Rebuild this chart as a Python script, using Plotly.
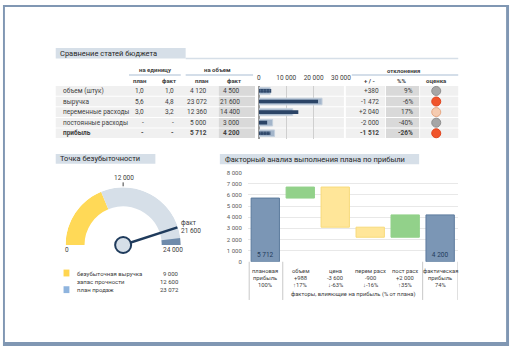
import plotly.graph_objects as go

W, H = 520, 350


def px(x):
    return x / W


def py(y):
    return 1 - y / H


FONT = "Roboto, 'Open Sans', sans-serif"
TXT = "#404040"
NAVY = "#1f3b5c"
BAND = "#d6dfe8"

# ---------------- budget comparison table ----------------
row_labels = ["объем (штук)", "выручка", "переменные расходы", "постоянные расходы", "прибыль"]
plan_unit = ["1,0", "5,6", "3,0", "-", "-"]
fact_unit = ["1,0", "4,8", "3,2", "-", "-"]
plan_volume = [4120, 23072, 12360, 5000, 5712]
fact_volume = [4500, 21600, 14400, 3000, 4200]
deviation = ["+380", "-1 472", "+2 040", "-2 000", "-1 512"]
deviation_pct = ["9%", "-6%", "17%", "-40%", "-26%"]
rating_colors = ["#a6a6a6", "#f0542b", "#f5cbb0", "#a6a6a6", "#f0542b"]
rating_lines = ["#8f8f8f", "#e0441d", "#e6a783", "#8f8f8f", "#e0441d"]
bullet_ticks = [0, 10000, 20000, 30000]
bullet_ticktext = ["0", "10 000", "20 000", "30 000"]

# ---------------- break-even gauge ----------------
gauge_max = 24000
gauge_ticks = ["0", "12 000", "24 000"]
breakeven = 9000
safety_margin = 12600
sales_plan = 23072
sales_fact = 21600

# ---------------- profit factor waterfall ----------------
wf_line1 = ["плановая", "объем", "цена", "перем расх", "пост расх", "фактическая"]
wf_line2 = ["прибыль", "+988", "-3 600", "-900", "+2 000", "прибыль"]
wf_line3 = ["100%", "↑17%", "↓-63%", "↓-16%", "↑35%", "74%"]
wf_measure = ["absolute", "relative", "relative", "relative", "relative", "total"]
wf_values = [5712, 988, -3600, -900, 2000, 0]
wf_text = ["5 712", "", "", "", "", "4 200"]
wf_yticks = [0, 1000, 2000, 3000, 4000, 5000, 6000, 7000, 8000]


def fmt(v):
    return f"{v:,}".replace(",", " ")


rows = list(range(len(row_labels)))
fig = go.Figure()

# bullet bars
fig.add_trace(go.Bar(
    x=plan_volume, y=rows, orientation="h", width=0.62,
    marker=dict(color="#a3b5ca", line=dict(color="#c3cfdc", width=1)),
    xaxis="x", yaxis="y", hoverinfo="skip"))
fig.add_trace(go.Bar(
    x=fact_volume, y=rows, orientation="h", width=0.34,
    marker=dict(color="#2b4466", line=dict(width=0),
                pattern=dict(shape=[".", "", "", "", "."], fgcolor="#8ea3be", size=3, solidity=0.3)),
    xaxis="x", yaxis="y", hoverinfo="skip"))

# rating circles
fig.add_trace(go.Scatter(
    x=[0.5] * len(rows), y=rows, mode="markers",
    marker=dict(size=9, color=rating_colors, line=dict(color=rating_lines, width=1)),
    xaxis="x3", yaxis="y", hoverinfo="skip", cliponaxis=False))

# waterfall
fig.add_trace(go.Waterfall(
    x=list(range(len(wf_values))), y=wf_values, measure=wf_measure,
    width=0.81, text=wf_text, textposition="inside", insidetextanchor="start",
    textfont=dict(size=6.5, color=NAVY, family=FONT),
    connector=dict(visible=False),
    totals=dict(marker=dict(color="#7b96b5", line=dict(color="#5b7a9d", width=1))),
    increasing=dict(marker=dict(color="#92d18a", line=dict(color="#92d18a", width=1))),
    decreasing=dict(marker=dict(color="#ffe699", line=dict(color="#f7da7a", width=1))),
    xaxis="x2", yaxis="y2", hoverinfo="skip"))

# gauge (polar)
def deg(v):
    return v / gauge_max * 180.0

hole = 0.67
segments = [(0, breakeven, "#ffd957"), (breakeven, gauge_max, BAND), (sales_plan, gauge_max, "#6f8bab")]
for a, b, c in segments:
    fig.add_trace(go.Barpolar(
        r=[1 - hole], base=[hole], theta=[deg((a + b) / 2)], width=[deg(b - a)],
        marker=dict(color=c, line=dict(width=0)), hoverinfo="skip"))
fig.add_trace(go.Scatterpolar(
    r=[0, 0.99], theta=[deg(sales_fact)] * 2, mode="lines",
    line=dict(color=NAVY, width=2.5), hoverinfo="skip"))
fig.add_trace(go.Scatterpolar(
    r=[0], theta=[0], mode="markers", cliponaxis=False,
    marker=dict(size=16, color=BAND, line=dict(color=NAVY, width=2)), hoverinfo="skip"))

shapes = []
ann = []


def rect(x0, y0, x1, y1, color, layer="below"):
    shapes.append(dict(type="rect", xref="paper", yref="paper", x0=px(x0), x1=px(x1),
                       y0=py(y1), y1=py(y0), fillcolor=color, line=dict(width=0), layer=layer))


def hline(x0, x1, y, color, width=1):
    shapes.append(dict(type="line", xref="paper", yref="paper", x0=px(x0), x1=px(x1),
                       y0=py(y), y1=py(y), line=dict(color=color, width=width), layer="below"))


def text(x, y, s, anchor="left", size=6.5, color=TXT, bold=False, yanchor="middle"):
    if bold:
        s = f"<b>{s}</b>"
    ann.append(dict(x=px(x), y=py(y), xref="paper", yref="paper", text=s, showarrow=False,
                    xanchor=anchor, yanchor=yanchor, font=dict(size=size, color=color, family=FONT)))


# frame
rect(1, 1, 519, 3, "#8097b3", "above")
rect(1, 1, 3, 349, "#8097b3", "above")
rect(516, 1, 519, 349, "#8097b3", "above")
rect(1, 345, 519, 349, "#8097b3", "above")

# section titles
rect(55, 45, 188, 55.5, BAND)
hline(188, 467, 55.5, BAND, 1.5)
text(57, 50.5, "Сравнение статей бюджета", size=7.5, color="#262626")
rect(55, 153, 157, 163, BAND)
text(57, 158, "Точка безубыточности", size=7.5, color="#262626")
rect(223, 153, 427, 163.5, BAND)
text(226, 158.5, "Факторный анализ выполнения плана по прибыли", size=7.5, color="#262626")

# table header
text(157, 67, "на единицу", "center", 6, bold=True)
hline(130, 183, 72.5, "#c6d3e2", 1.5)
text(221, 67, "на объем", "center", 6, bold=True)
hline(188, 257, 72.5, "#c6d3e2", 1.5)
text(411, 67.5, "отклонения", "center", 6, bold=True)
hline(358, 467, 72.5, "#c6d3e2", 1.5)
for xc, s in [(141, "план"), (171, "факт"), (205, "план"), (237, "факт"),
              (376, "+ / -"), (409, "%%"), (445, "оценка")]:
    text(xc, 78, s, "center", 6, bold=True)

# table rows
ROW0, PITCH = 88.7, 10.8
for i in rows:
    yc = ROW0 + PITCH * i
    y0, y1 = yc - 4.9, yc + 4.9
    for a, b in [(55, 259), (262, 350), (352, 392), (428, 467)]:
        rect(a, y0, b, y1, "#f0f0f0")
    rect(222, y0, 259, y1, "#d9d9d9")
    rect(393, y0, 427, y1, "#d9d9d9")
    bold = i == len(rows) - 1
    text(60, yc, row_labels[i], "left", bold=bold)
    text(147, yc, plan_unit[i], "right", bold=bold)
    text(178, yc, fact_unit[i], "right", bold=bold)
    text(212, yc, fmt(plan_volume[i]), "right", bold=bold)
    text(246, yc, fmt(fact_volume[i]), "right", bold=bold)
    text(388, yc, deviation[i], "right", bold=bold)
    text(423, yc, deviation_pct[i], "right", bold=bold)

# gauge labels
text(125, 178, gauge_ticks[1], "center", 6.5)
shapes.append(dict(type="line", xref="paper", yref="paper", x0=px(124), x1=px(124),
                   y0=py(186), y1=py(182), line=dict(color=TXT, width=1)))
text(67, 251.5, gauge_ticks[0], "center", 6.5)
text(175, 251.5, gauge_ticks[2], "center", 6.5)
text(181, 223, "факт", "left", 6.5)
text(181, 232, fmt(sales_fact), "left", 6.5)

# gauge legend
rect(63, 271, 69, 278, "#ffd54f")
text(75, 274.5, "безубыточная выручка", "left", 6)
text(183, 274.5, fmt(breakeven), "right", 6)
text(75, 283, "запас прочности", "left", 6)
text(183, 283, fmt(safety_margin), "right", 6)
rect(63, 288, 69, 295, "#8fb4de")
text(75, 291.5, "план продаж", "left", 6)
text(183, 291.5, fmt(sales_plan), "right", 6)

# waterfall category table
for xv in [-0.46, 0.5, 4.5, 5.5]:
    shapes.append(dict(type="line", xref="x2", yref="paper", x0=xv, x1=xv,
                       y0=py(302), y1=py(263), line=dict(color="#c8c8c8", width=1)))
for j in range(len(wf_values)):
    for k, lines in enumerate([wf_line1, wf_line2, wf_line3]):
        ann.append(dict(x=j, y=py(272 + 7.5 * k), xref="x2", yref="paper", text=lines[j],
                        showarrow=False, xanchor="center", yanchor="middle",
                        font=dict(size=5.8, color=TXT, family=FONT)))
text(359, 296, "факторы, влияющие на прибыль (% от плана)", "center", 5.8)

fig.update_layout(
    width=W, height=H, margin=dict(l=0, r=0, t=0, b=0),
    paper_bgcolor="white", plot_bgcolor="rgba(0,0,0,0)",
    showlegend=False, barmode="overlay", separators=", ",
    font=dict(family=FONT, color=TXT, size=6.5),
    shapes=shapes, annotations=ann,
    xaxis=dict(domain=[px(263), px(347)], range=[0, 30000], side="top",
               tickvals=bullet_ticks, ticktext=bullet_ticktext, ticks="",
               tickfont=dict(size=6.5, color=TXT), ticklabelstandoff=3,
               showgrid=True, gridcolor="#cfcfcf", gridwidth=1,
               zeroline=True, zerolinecolor="#9a9a9a", zerolinewidth=2,
               showline=False, fixedrange=True),
    yaxis=dict(domain=[py(ROW0 + PITCH * 4.5), py(ROW0 - PITCH * 0.5)],
               range=[4.5, -0.5], visible=False, fixedrange=True),
    xaxis3=dict(domain=[px(439.5), px(449.5)], range=[0, 1], anchor="y", visible=False),
    xaxis2=dict(domain=[px(251.6), px(466.4)], range=[-0.5, 5.5], anchor="y2",
                showticklabels=False, showgrid=False, zeroline=False, ticks=""),
    yaxis2=dict(domain=[py(263), py(172)], range=[0, 8000], anchor="x2",
                tickvals=wf_yticks, ticktext=[fmt(v) for v in wf_yticks],
                tickfont=dict(size=6, color="#595959"), ticklabelstandoff=5,
                showgrid=True, gridcolor="#e8e8e8", zeroline=False, showline=False, ticks=""),
    polar=dict(domain=dict(x=[px(65), px(183)], y=[py(246), py(187)]),
               sector=[0, 180], hole=0, bgcolor="rgba(0,0,0,0)",
               radialaxis=dict(visible=False, range=[0, 1]),
               angularaxis=dict(visible=False, rotation=180, direction="clockwise")),
)

fig.write_html("out.html")
